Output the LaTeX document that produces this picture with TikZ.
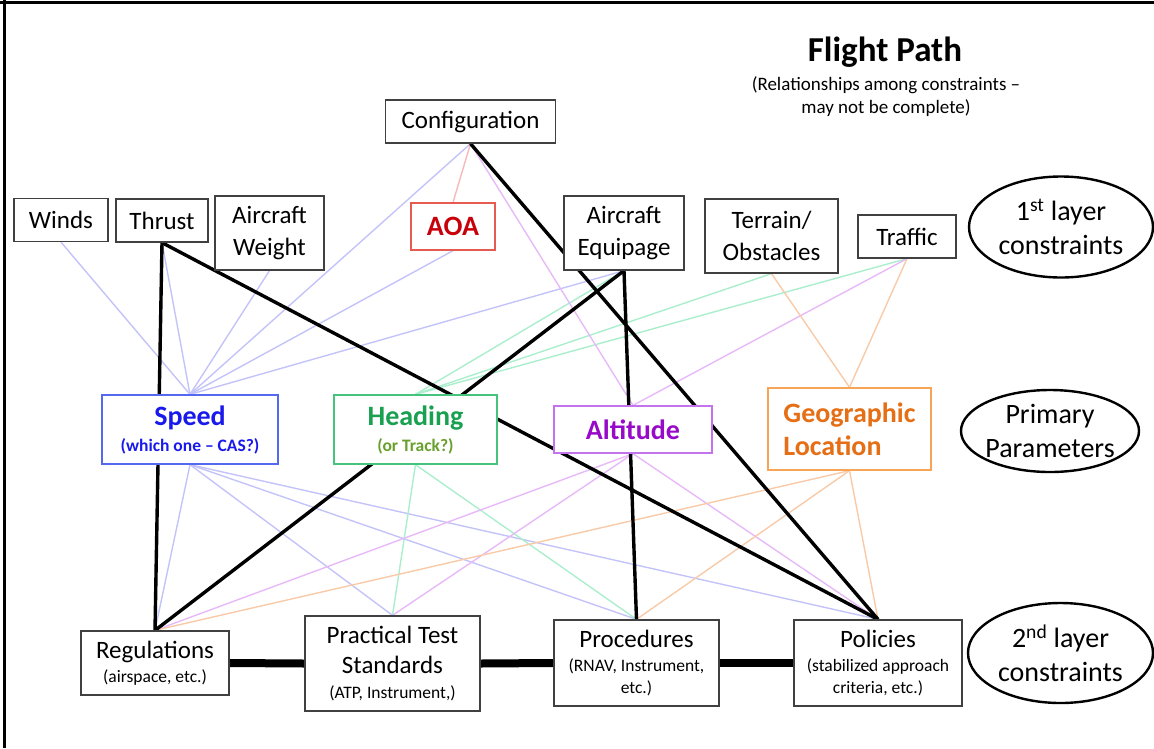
\documentclass[tikz,border=0pt]{standalone}
\usepackage{fontspec}
\setmainfont{Carlito}
\usetikzlibrary{shapes.geometric,backgrounds}

\definecolor{spdtext}{RGB}{25,25,235}
\definecolor{spdline}{RGB}{85,105,240}
\definecolor{hdgtext}{RGB}{25,160,80}
\definecolor{hdgsub}{RGB}{105,160,45}
\definecolor{hdgline}{RGB}{70,195,125}
\definecolor{alttext}{RGB}{150,10,200}
\definecolor{altline}{RGB}{195,115,235}
\definecolor{geotext}{RGB}{230,110,20}
\definecolor{geoline}{RGB}{245,165,85}
\definecolor{aoatext}{RGB}{200,0,10}
\definecolor{aoaline}{RGB}{230,90,80}
\definecolor{bluelite}{RGB}{195,195,250}
\definecolor{greenlite}{RGB}{170,238,205}
\definecolor{purplite}{RGB}{232,185,248}
\definecolor{orangelite}{RGB}{248,202,168}
\definecolor{pinklite}{RGB}{246,185,185}

\newcommand{\boxfont}{\fontsize{25}{32}\selectfont}
\newcommand{\subfont}{\fontsize{17.5}{23}\selectfont}
\newcommand{\paramfont}{\fontsize{28}{33}\bfseries\selectfont}
\newcommand{\layerfont}{\fontsize{28}{34}\selectfont}

\begin{document}
\begin{tikzpicture}[x=1pt, y=-1pt,
    box/.style = {draw=black!75, line width=1.3pt, fill=white, align=center, inner sep=0pt, font=\boxfont},
    param/.style = {box, font=\paramfont},
    layer/.style = {draw, ellipse, line width=2.4pt, align=center, inner sep=-12pt, font=\layerfont},
    blueln/.style = {bluelite, line width=1.4pt},
    greenln/.style = {greenlite, line width=1.4pt},
    purpln/.style = {purplite, line width=1.4pt},
    orangln/.style = {orangelite, line width=1.4pt},
    pinkln/.style = {pinklite, line width=1.4pt},
    blackln/.style = {black, line width=3.4pt},
    barln/.style = {black, line width=8pt}]
    \useasboundingbox (0,0) rectangle (1154,748);
    \draw[line width=3pt] (0,2) -- (1154,2);
    \draw[line width=3pt] (4.5,0) -- (4.5,748);

    % title
    \node[font=\fontsize{35}{40}\bfseries\selectfont] (title) at (885,52) {Flight Path};
    \node[align=center, font=\fontsize{19}{23}\selectfont] (note) at (886,97) {(Relationships among constraints --\\may not be complete)};

    % 1st layer
    \node[box, minimum width=170, minimum height=43] (conf) at (470.5,121.5) {Configuration};
    \node[box, minimum width=94, minimum height=43] (winds) at (61,220) {Winds};
    \node[box, minimum width=92, minimum height=43] (thrust) at (162,220.5) {Thrust};
    \node[box, minimum width=109, minimum height=74] (weight) at (269.5,233) {Aircraft\\Weight};
    \node[param, draw=aoaline, text=aoatext, minimum width=84, minimum height=47] (aoa) at (453,226.5) {AOA};
    \node[box, minimum width=120, minimum height=74] (equip) at (624,233) {Aircraft\\Equipage};
    \node[box, minimum width=133, minimum height=74] (terr) at (771.5,236) {Terrain/\\Obstacles};
    \node[box, minimum width=98, minimum height=43] (traf) at (907,236.5) {Traffic};

    % primary parameters
    \node[param, draw=spdline, text=spdtext, minimum width=176, minimum height=69] (speed) at (190,429.5) {Speed\\[-7pt]\subfont (which one -- CAS?)};
    \node[param, draw=hdgline, text=hdgtext, minimum width=163, minimum height=69] (head) at (415.5,429.5) {Heading\\[-7pt]\subfont\color{hdgsub} (or Track?)};
    \node[param, draw=altline, text=alttext, minimum width=158, minimum height=47] (alt) at (633,429.5) {Altitude};
    \node[param, draw=geoline, text=geotext, minimum width=163, minimum height=82, align=left] (geo) at (849.5,429) {Geographic\\Location};

    % 2nd layer
    \node[box, minimum width=148, minimum height=64] (regs) at (155,663) {Regulations\\[-8pt]\subfont (airspace, etc.)};
    \node[box, minimum width=175, minimum height=95] (pts) at (392.5,663.5) {Practical Test\\[-2pt]Standards\\[-7pt]\subfont (ATP, Instrument,)};
    \node[box, minimum width=165, minimum height=86] (proc) at (636.5,663) {Procedures\\[-8pt]\subfont (RNAV, Instrument,\\[-10pt]\subfont etc.)};
    \node[box, minimum width=168, minimum height=86] (pol) at (878,663) {Policies\\[-8pt]\subfont (stabilized approach\\[-10pt]\subfont criteria, etc.)};

    % layer labels
    \node[layer, minimum width=184, minimum height=101] (first) at (1061,227) {1\textsuperscript{st} layer\\constraints};
    \node[layer, minimum width=178, minimum height=82] (prim) at (1050,431) {Primary\\Parameters};
    \node[layer, minimum width=185, minimum height=100] (second) at (1060.5,653) {2\textsuperscript{nd} layer\\constraints};

    \begin{scope}[on background layer]
    \draw[blueln] (speed.north) -- (winds.south);
    \draw[blueln] (speed.north) -- (thrust.south);
    \draw[blueln] (speed.north) -- (weight.south);
    \draw[blueln] (speed.north) -- (conf.south);
    \draw[blueln] (speed.north) -- (aoa.south);
    \draw[blueln] (speed.north) -- (equip.south);
    \draw[blueln] (speed.south) -- (regs.north);
    \draw[blueln] (speed.south) -- (pts.north);
    \draw[blueln] (speed.south) -- (proc.north);
    \draw[blueln] (speed.south) -- (pol.north);
    \draw[greenln] (head.north) -- (equip.south);
    \draw[greenln] (head.north) -- (terr.south);
    \draw[greenln] (head.north) -- (traf.south);
    \draw[greenln] (head.south) -- (pts.north);
    \draw[greenln] (head.south) -- (proc.north);
    \draw[purpln] (alt.north) -- (conf.south);
    \draw[purpln] (alt.north) -- (traf.south);
    \draw[purpln] (alt.south) -- (regs.north);
    \draw[purpln] (alt.south) -- (pts.north);
    \draw[purpln] (alt.south) -- (pol.north);
    \draw[orangln] (geo.north) -- (terr.south);
    \draw[orangln] (geo.north) -- (traf.south);
    \draw[orangln] (geo.south) -- (regs.north);
    \draw[orangln] (geo.south) -- (proc.north);
    \draw[orangln] (geo.south) -- (pol.north);
    \draw[pinkln] (conf.south) -- (aoa.north);
    % black ties
    \draw[blackln] (thrust.south) -- (regs.north);
    \draw[blackln] (thrust.south) -- (pol.north);
    \draw[blackln] (equip.south) -- (regs.north);
    \draw[blackln] (equip.south) -- (proc.north);
    \draw[blackln] (conf.south) -- (pol.north);
    \draw[barln] (regs.east) -- (pts.west);
    \draw[barln] (pts.east) -- (proc.west);
    \draw[barln] (proc.east) -- (pol.west);
    \end{scope}
\end{tikzpicture}
\end{document}
